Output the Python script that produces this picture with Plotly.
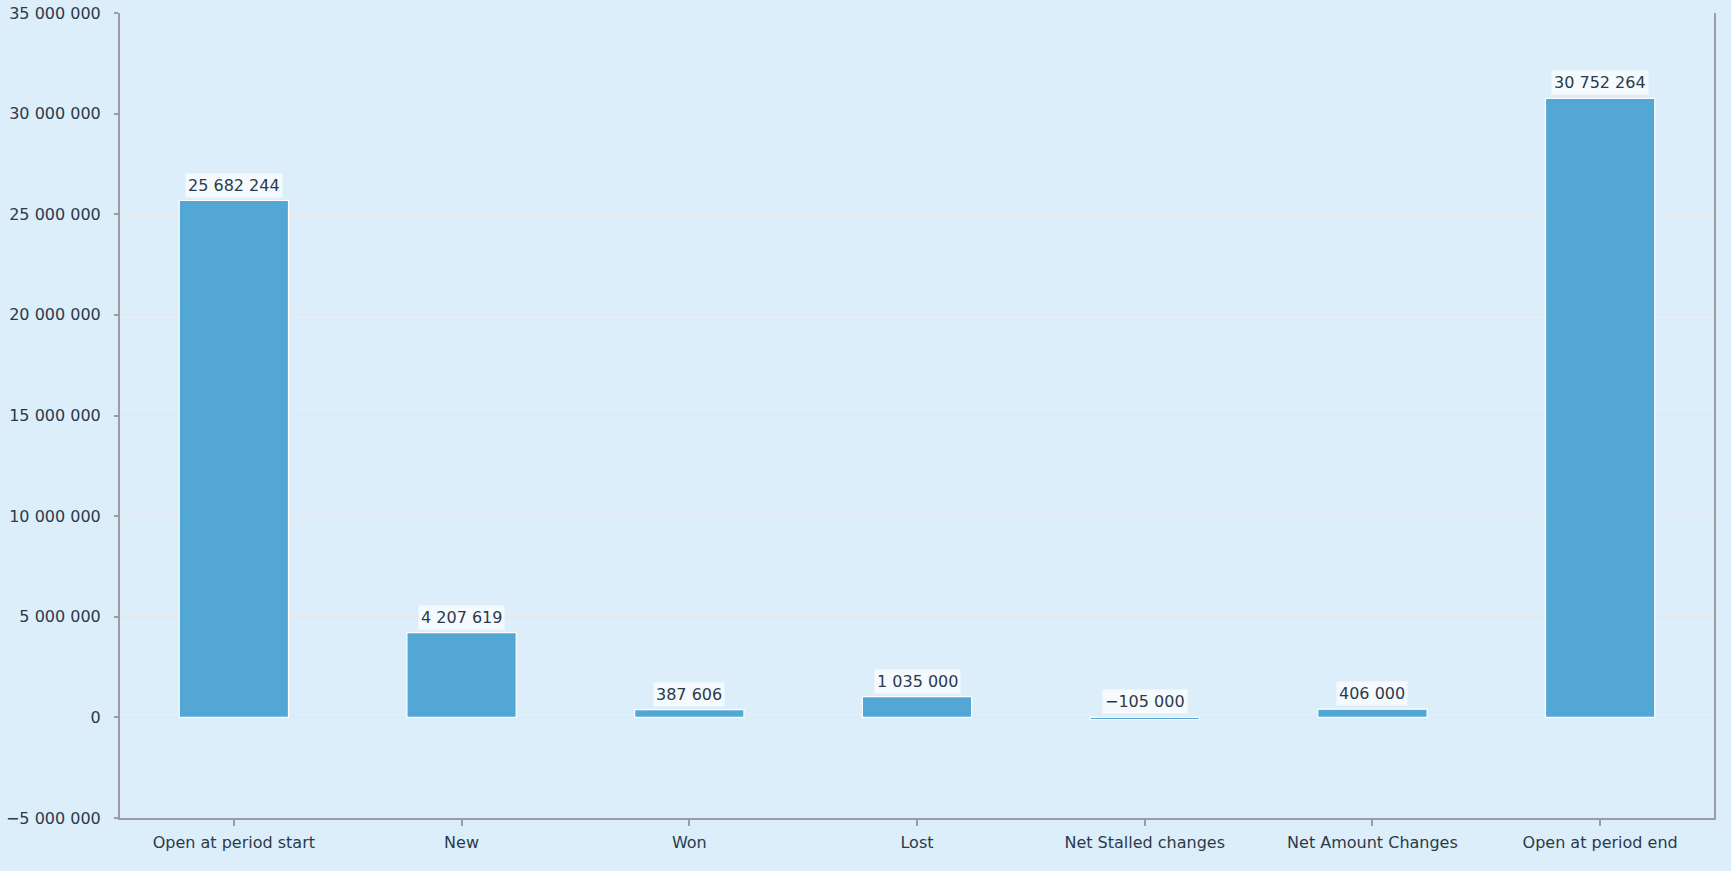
import plotly.graph_objects as go

categories = ["Open at period start", "New", "Won", "Lost",
              "Net Stalled changes", "Net Amount Changes", "Open at period end"]
values = [25682244, 4207619, 387606, 1035000, -105000, 406000, 30752264]

y_ticks = [-5000000, 0, 5000000, 10000000, 15000000, 20000000, 25000000, 30000000, 35000000]


def fmt(v):
    s = f"{abs(v):,}".replace(",", " ")
    return ("−" if v < 0 else "") + s


FONT = "DejaVu Sans"
TXT = "#2b3a4a"

fig = go.Figure()
fig.add_trace(go.Bar(
    x=categories, y=values,
    marker=dict(color="#53A7D4", line=dict(color="white", width=1.2)),
    width=0.48,
    hoverinfo="x+y",
))

for c, v in zip(categories, values):
    fig.add_annotation(
        x=c, y=max(v, 0), text=fmt(v), showarrow=False,
        yanchor="bottom", yshift=3,
        bgcolor="rgba(255,255,255,0.7)", borderpad=2,
        font=dict(family=FONT, size=16, color=TXT),
    )

fig.update_layout(
    width=1731, height=871,
    paper_bgcolor="#DDEEFB", plot_bgcolor="#DDEEFB",
    margin=dict(l=120, r=17, t=13, b=53),
    separators=". ",
    showlegend=False,
    font=dict(family=FONT, size=16, color=TXT),
)
fig.update_yaxes(
    range=[-5000000, 35000000], tickvals=y_ticks, tickformat=",d",
    showgrid=True, gridcolor="#E6E6E6", gridwidth=1,
    zeroline=False, automargin=False,
    showline=True, linecolor="#9C9CA4", linewidth=2, mirror=True,
    ticks="outside", ticklen=4, tickcolor="#9C9CA4", tickwidth=2,
    ticklabelstandoff=10,
    tickfont=dict(family=FONT, size=16, color=TXT),
)
fig.update_xaxes(
    showline=True, linecolor="#9C9CA4", linewidth=2, automargin=False,
    ticks="outside", ticklen=6, tickcolor="#9C9CA4", tickwidth=2,
    ticklabelstandoff=3,
    tickfont=dict(family=FONT, size=16, color=TXT),
    showgrid=False,
)

fig.write_html("out.html",
               config={"displayModeBar": False},
               post_script="document.body.style.margin='0';document.body.style.background='#DDEEFB';")
